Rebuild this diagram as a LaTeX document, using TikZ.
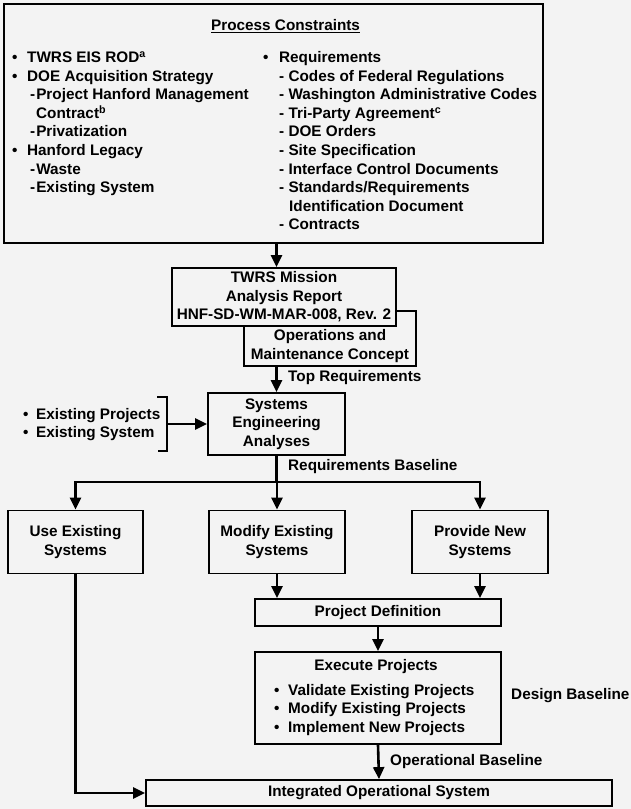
\documentclass[tikz,border=0pt]{standalone}
\usepackage{fontspec}
\setmainfont{Liberation Sans}
\usetikzlibrary{arrows.meta}
\definecolor{paper}{HTML}{F3F3F3}

\begin{document}
\begin{tikzpicture}[x=1pt,y=-1pt,
  font=\fontsize{15.3}{18.6}\selectfont\bfseries,
  box/.style={draw, line width=1.8pt, fill=paper, inner sep=0pt, align=center},
  arr/.style={line width=2.6pt, -{Triangle[length=12pt,width=11pt]}},
  wire/.style={line width=2.6pt},
  brk/.style={line width=1.8pt},
  txt/.style={anchor=base west, inner sep=0pt},
  lbl/.style={anchor=west, inner sep=0pt}]

\fill[paper] (0,0) rectangle (631,809);
\useasboundingbox (0,0) rectangle (631,809);

% ---- Process constraints panel
\node[box, minimum width=539pt, minimum height=239pt] (pc) at (273.5,123.5) {};
\node[txt] (pct) at (211,30.5) {\underline{Process Constraints}};

% left column
\node[txt] (l0) at (12,62.5)  {\makebox[15pt][l]{•}TWRS EIS ROD\textsuperscript{a}};
\node[txt] (l1) at (12,81.1)  {\makebox[15pt][l]{•}DOE Acquisition Strategy};
\node[txt] (l2) at (30,99.7)  {-\kern1pt Project Hanford Management};
\node[txt] (l3) at (36,118.3) {Contract\textsuperscript{b}};
\node[txt] (l4) at (30,136.9) {-\kern1pt Privatization};
\node[txt] (l5) at (12,155.5) {\makebox[15pt][l]{•}Hanford Legacy};
\node[txt] (l6) at (30,174.1) {-\kern1pt Waste};
\node[txt] (l7) at (30,192.7) {-\kern1pt Existing System};

% right column
\node[txt] (r0) at (263,62.5)  {\makebox[16pt][l]{•}Requirements};
\node[txt] (r1) at (279,81.1)  {- Codes of Federal Regulations};
\node[txt] (r2) at (279,99.7)  {- Washington Administrative Codes};
\node[txt] (r3) at (279,118.3) {- Tri-Party Agreement\textsuperscript{c}};
\node[txt] (r4) at (279,136.9) {- DOE Orders};
\node[txt] (r5) at (279,155.5) {- Site Specification};
\node[txt] (r6) at (279,174.1) {- Interface Control Documents};
\node[txt] (r7) at (279,192.7) {- Standards/Requirements};
\node[txt] (r8) at (289,211.3) {Identification Document};
\node[txt] (r9) at (279,229.9) {- Contracts};

% ---- mission analysis and O&M concept (O&M box sits behind)
\node[box, minimum width=172pt, minimum height=55pt] (ops) at (330,338.5) {};
\node[box, minimum width=224pt, minimum height=58pt] (twrs) at (284,297)
  {TWRS Mission\\Analysis Report\\HNF-SD-WM-MAR-008, Rev. 2};
\node[align=center, inner sep=0pt] (opst) at (330,346) {Operations and\\Maintenance Concept};

% ---- systems engineering
\node[box, minimum width=137pt, minimum height=62pt] (sea) at (276.5,424)
  {Systems\\Engineering\\Analyses};

\node[txt] (exp) at (23,419.5) {\makebox[13pt][l]{•}Existing Projects};
\node[txt] (exs) at (23,437.5) {\makebox[13pt][l]{•}Existing System};
\coordinate (bt) at (157,397);
\coordinate (bb) at (158,451);
\coordinate (bm) at (167,424);
\draw[brk] (bt) -- (167,397) -- (167,451) -- (bb);
\draw[arr] (bm) -- (sea.west);

% ---- alternatives
\node[box, minimum width=135pt, minimum height=63pt] (use) at (75.5,542) {Use Existing\\Systems};
\node[box, minimum width=136pt, minimum height=63pt] (mod) at (277,542) {Modify Existing\\Systems};
\node[box, minimum width=136pt, minimum height=63pt] (new) at (480,542) {Provide New\\Systems};

% ---- projects
\node[box, minimum width=246pt, minimum height=27pt] (pd) at (378,612.5) {Project Definition};
\node[box, minimum width=246pt, minimum height=92pt] (exe) at (378,698) {};
\node[inner sep=0pt] (exet) at (376,667) {Execute Projects};
\node[txt] (e1) at (274,695.5) {\makebox[14pt][l]{•}Validate Existing Projects};
\node[txt] (e2) at (274,713.5) {\makebox[14pt][l]{•}Modify Existing Projects};
\node[txt] (e3) at (274,732)   {\makebox[14pt][l]{•}Implement New Projects};

\node[box, minimum width=466pt, minimum height=26pt] (ios) at (379,793) {Integrated Operational System};

% ---- labels on the flow
\node[lbl] (topreq) at (288,378) {Top Requirements};
\node[lbl] (reqbl) at (288,467) {Requirements Baseline};
\node[lbl] (desbl) at (511,696) {Design Baseline};
\node[lbl] (opbl) at (390,762) {Operational Baseline};

% ---- connectors
\draw[arr] (pc.south -| sea) -- (twrs.north -| sea);
\draw[arr] (ops.south -| sea) -- (sea.north);

\coordinate (bus) at (0,482);
\draw[wire] (sea.south) -- (sea.south |- bus);
\draw[wire] ([xshift=-1.3pt]use.north |- bus) -- ([xshift=1.3pt]new.north |- bus);
\draw[arr] (use.north |- bus) -- (use.north);
\draw[arr] (mod.north |- bus) -- (mod.north);
\draw[arr] (new.north |- bus) -- (new.north);

\draw[arr] (mod.south) -- (pd.north -| mod);
\draw[arr] (new.south) -- (pd.north -| new);
\draw[arr] (pd.south) -- (exe.north);
\draw[arr] (exe.south) -- (ios.north);
\draw[arr] (use.south) |- (ios.west);

\end{tikzpicture}
\end{document}
